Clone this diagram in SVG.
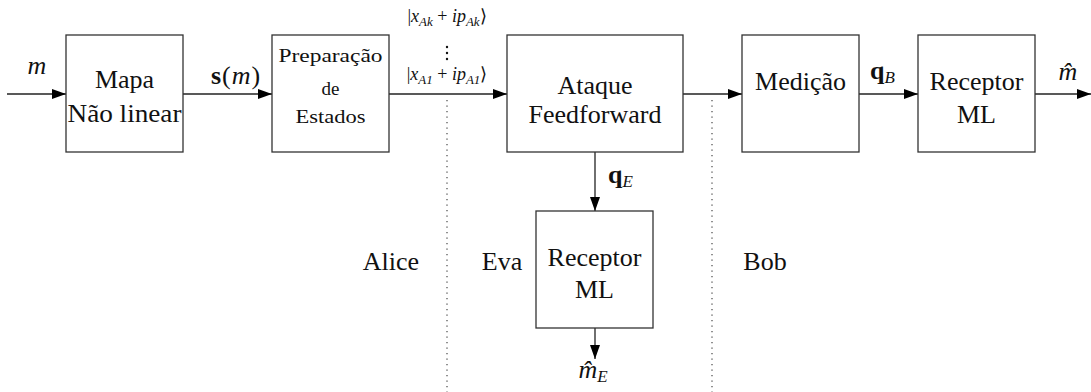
<svg xmlns="http://www.w3.org/2000/svg" width="1091" height="392" viewBox="0 0 1091 392">
<defs>
<marker id="arr" viewBox="0 0 14 10" refX="14" refY="5" markerWidth="14" markerHeight="10" markerUnits="userSpaceOnUse" orient="auto">
<path d="M0,0 L14,5 L0,10 Z" fill="#000"/>
</marker>
</defs>
<style>
.box{fill:#fff;stroke:#333;stroke-width:1.3}
.lbl{font-family:'Liberation Serif',serif;font-size:26px;fill:#111;text-anchor:middle}
.sml{font-family:'Liberation Serif',serif;font-size:19px;fill:#111;text-anchor:middle}
.mth{font-family:'Liberation Serif',serif;font-size:26px;fill:#111}
.ket{font-family:'Liberation Serif',serif;font-size:18px;fill:#111;text-anchor:middle}
.it{font-style:italic}
.bd{font-weight:bold}
.con{fill:none;stroke:#222;stroke-width:1.3;marker-end:url(#arr)}
.dot{fill:none;stroke:#555;stroke-width:1.3;stroke-dasharray:1.3 4.2}
</style>
<g id="dividers">
<line class="dot" x1="447" y1="100" x2="447" y2="392"/>
<line class="dot" x1="712" y1="100" x2="712" y2="392"/>
</g>
<g id="connectors">
<line class="con" x1="7" y1="94" x2="66" y2="94"/>
<line class="con" x1="183" y1="94" x2="272" y2="94"/>
<line class="con" x1="389" y1="94" x2="507" y2="94"/>
<line class="con" x1="683" y1="94" x2="742" y2="94"/>
<line class="con" x1="859" y1="94" x2="918" y2="94"/>
<line class="con" x1="1035" y1="94" x2="1091" y2="94"/>
<line class="con" x1="595" y1="152" x2="595" y2="211"/>
<line class="con" x1="595" y1="328" x2="595" y2="359"/>
</g>
<g id="labels">
<text class="mth it" x="37" y="74" text-anchor="middle">m</text>
<text class="mth" x="236" y="84" text-anchor="middle" letter-spacing="1"><tspan class="bd">s</tspan>(<tspan class="it">m</tspan>)</text>
<text class="ket" x="447" y="22">|<tspan class="it">x</tspan><tspan class="it" font-size="13" dy="4">Ak</tspan><tspan dy="-4"> + </tspan><tspan class="it">ip</tspan><tspan class="it" font-size="13" dy="4">Ak</tspan><tspan dy="-4">⟩</tspan></text>
<g id="vdots" fill="#111">
<circle cx="447" cy="47" r="1.2"/>
<circle cx="447" cy="53" r="1.2"/>
<circle cx="447" cy="59" r="1.2"/>
</g>
<text class="ket" x="447" y="80">|<tspan class="it">x</tspan><tspan class="it" font-size="13" dy="4">A1</tspan><tspan dy="-4"> + </tspan><tspan class="it">ip</tspan><tspan class="it" font-size="13" dy="4">A1</tspan><tspan dy="-4">⟩</tspan></text>
<text class="mth" x="870" y="79"><tspan class="bd">q</tspan><tspan class="it" font-size="17" dy="4">B</tspan></text>
<text class="mth it" x="1068" y="80" text-anchor="middle">m̂</text>
<text class="mth" x="608" y="183"><tspan class="bd">q</tspan><tspan class="it" font-size="17" dy="4">E</tspan></text>
<text class="mth" x="593" y="378" text-anchor="middle"><tspan class="it">m̂</tspan><tspan class="it" font-size="17" dy="4">E</tspan></text>
<text class="lbl" x="391" y="270">Alice</text>
<text class="lbl" x="502" y="270">Eva</text>
<text class="lbl" x="765" y="270">Bob</text>
</g>
<g id="mapa">
<rect class="box" x="66" y="35" width="117" height="117"/>
<text class="lbl" x="124.5" y="88">Mapa</text>
<text class="lbl" x="124.5" y="122" textLength="114" lengthAdjust="spacingAndGlyphs">Não linear</text>
</g>
<g id="preparacao">
<rect class="box" x="272" y="35" width="117" height="117"/>
<text class="sml" x="330.5" y="62" textLength="104" lengthAdjust="spacingAndGlyphs">Preparação</text>
<text class="sml" x="330.5" y="95">de</text>
<text class="sml" x="330.5" y="123" textLength="70" lengthAdjust="spacingAndGlyphs">Estados</text>
</g>
<g id="ataque">
<rect class="box" x="507" y="35" width="176" height="117"/>
<text class="lbl" x="595" y="94">Ataque</text>
<text class="lbl" x="595" y="123">Feedforward</text>
</g>
<g id="medicao">
<rect class="box" x="742" y="35" width="117" height="117"/>
<text class="lbl" x="800.5" y="90">Medição</text>
</g>
<g id="receptor-bob">
<rect class="box" x="918" y="35" width="117" height="117"/>
<text class="lbl" x="976.5" y="90">Receptor</text>
<text class="lbl" x="976.5" y="123">ML</text>
</g>
<g id="receptor-eva">
<rect class="box" x="536" y="211" width="117" height="117"/>
<text class="lbl" x="594.5" y="266">Receptor</text>
<text class="lbl" x="594.5" y="298">ML</text>
</g>
</svg>
